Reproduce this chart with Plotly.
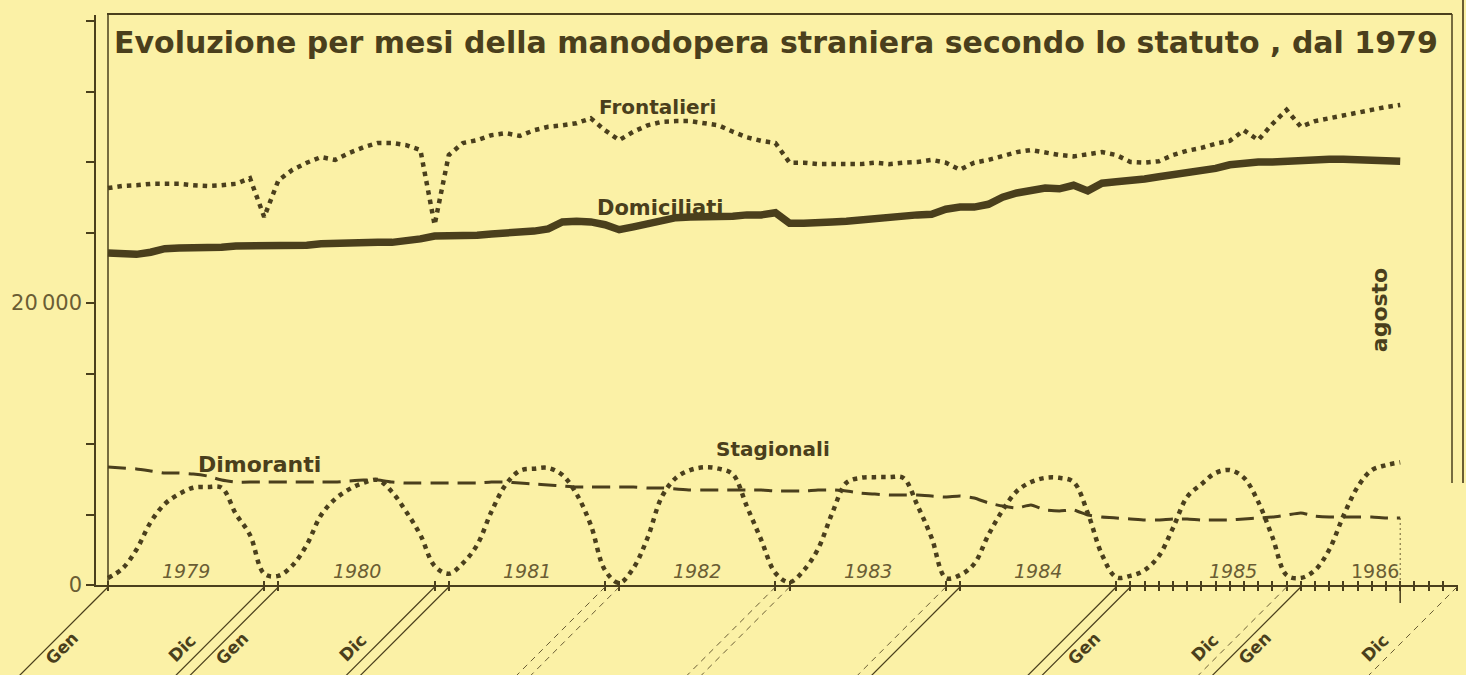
import plotly.graph_objects as go

# ---------------- data (monthly, Gen 1979 .. agosto 1986) ----------------
years = [1979, 1980, 1981, 1982, 1983, 1984, 1985, 1986]
month_names = ["Gen", "Feb", "Mar", "Apr", "Mag", "Giu", "Lug", "Ago", "Set", "Ott", "Nov", "Dic"]

frontalieri = [
    28150, 28300, 28350, 28450, 28450, 28450, 28350, 28300, 28350, 28450, 28850, 26100,  # 1979
    28700, 29450, 29950, 30350, 30150, 30650, 31050, 31350, 31350, 31200, 30850, 25550,  # 1980
    30500, 31350, 31550, 31900, 32050, 31850, 32250, 32500, 32600, 32750, 33100, 32250,  # 1981
    31550, 32150, 32600, 32850, 32900, 32900, 32750, 32600, 32150, 31750, 31500, 31350,  # 1982
    29950, 29950, 29850, 29850, 29800, 29850, 29950, 29850, 29950, 30000, 30150, 29950,  # 1983
    29450, 29950, 30150, 30400, 30700, 30850, 30650, 30500, 30400, 30550, 30700, 30500,  # 1984
    30000, 29950, 30050, 30500, 30800, 31000, 31300, 31500, 32250, 31550, 32700, 33700,  # 1985
    32500, 32900, 33100, 33350, 33550, 33750, 33900, 34050,                              # 1986
]

domiciliati = [
    23550, 23550, 23450, 23600, 23850, 23900, 23900, 23950, 23950, 24050, 24050, 24050,
    24050, 24050, 24100, 24200, 24250, 24250, 24250, 24300, 24300, 24400, 24550, 24750,
    24750, 24750, 24800, 24900, 24950, 25050, 25100, 25250, 25750, 25800, 25750, 25550,
    25200, 25400, 25600, 25900, 26050, 26100, 26100, 26150, 26150, 26250, 26250, 26400,
    25650, 25650, 25650, 25750, 25800, 25900, 26050, 26100, 26150, 26250, 26300, 26650,
    26800, 26800, 27000, 27500, 27800, 27950, 28150, 28100, 28350, 27950, 28500, 28600,
    28650, 28800, 28950, 29100, 29200, 29350, 29550, 29800, 29950, 30000, 30000, 30050,
    30200, 30200, 30200, 30200, 30150, 30150, 30050, 30050,
]

dimoranti = [
    8370, 8300, 8230, 8090, 7940, 7940, 7870, 7730, 7450, 7300, 7300, 7300,
    7300, 7300, 7300, 7300, 7300, 7380, 7450, 7450, 7300, 7230, 7230, 7230,
    7230, 7230, 7230, 7300, 7300, 7230, 7160, 7090, 7020, 6950, 6950, 6950,
    6950, 6950, 6880, 6880, 6810, 6740, 6740, 6740, 6740, 6740, 6740, 6670,
    6670, 6670, 6740, 6740, 6670, 6520, 6450, 6380, 6380, 6380, 6310, 6240,
    6310, 6170, 5820, 5600, 5460, 5670, 5320, 5250, 5320, 4960, 4820, 4750,
    4680, 4610, 4610, 4680, 4680, 4610, 4610, 4610, 4680, 4750, 4820, 4960,
    5110, 4890, 4820, 4820, 4820, 4820, 4750, 4750,
]

stagionali = [
    500, 1150, 2500, 4450, 5750, 6450, 6900, 6950, 6900, 5050, 3550, 800,
    650, 1400, 2850, 4950, 6100, 6800, 7250, 7450, 6600, 5200, 3550, 1350,
    800, 1550, 2850, 5200, 7100, 8100, 8250, 8300, 7800, 6450, 4250, 1050,
    150, 1200, 3350, 6250, 7600, 8150, 8350, 8250, 7850, 5550, 3200, 850,
    200, 1050, 2550, 5100, 7250, 7600, 7650, 7650, 7600, 5650, 3350, 500,
    700, 1500, 3550, 5300, 6650, 7300, 7600, 7600, 7300, 5100, 2150, 550,
    650, 1050, 2050, 4050, 6250, 7150, 7950, 8150, 7600, 5900, 3400, 700,
    500, 1050, 2500, 4900, 6950, 8150, 8500, 8700,
]

y_tick_values = [0, 5000, 10000, 15000, 20000, 25000, 30000, 35000, 40000]
y_tick_text = ["0", "", "", "", "20\u2009000", "", "", "", ""]

months = list(range(len(frontalieri)))          # 0 = Gen 1979
month_labels = [f"{month_names[m % 12]} {years[m // 12]}" for m in months]
last = months[-1]                                # agosto 1986

# ---------------- geometry / style ----------------
W, H = 1466, 675
L, R, T, B = 96, 8, 15, 90
PX0, PXM = 108, 14.2                 # pixel of month 0, pixels per month
plot_w, plot_h = W - L - R, H - T - B
x0 = -(PX0 - L) / PXM
x1 = x0 + plot_w / PXM
PX_PER_UNIT = 282 / 20000
y_top = plot_h / PX_PER_UNIT

BG = "#FBF1A6"
INK = "#4a3f1c"
INK2 = "#6a5d34"
FONT = "DejaVu Sans"


def pxx(m):
    return PX0 + m * PXM


def xp(px):
    return (px - L) / plot_w


def yp(py):
    return (H - B - py) / plot_h


def yval(py):
    return (H - B - py) / PX_PER_UNIT


fig = go.Figure()

fig.add_trace(go.Scatter(
    x=months, y=domiciliati, name="Domiciliati", mode="lines",
    customdata=month_labels, hovertemplate="%{customdata}: %{y}<extra>Domiciliati</extra>",
    line=dict(color=INK, width=7.5)))
fig.add_trace(go.Scatter(
    x=months, y=frontalieri, name="Frontalieri", mode="lines",
    customdata=month_labels, hovertemplate="%{customdata}: %{y}<extra>Frontalieri</extra>",
    line=dict(color=INK, width=4.5, dash="4.5px,5px")))
fig.add_trace(go.Scatter(
    x=months, y=dimoranti, name="Dimoranti", mode="lines",
    customdata=month_labels, hovertemplate="%{customdata}: %{y}<extra>Dimoranti</extra>",
    line=dict(color=INK, width=3, dash="18px,9px", shape="spline", smoothing=0.5)))
fig.add_trace(go.Scatter(
    x=months, y=stagionali, name="Stagionali", mode="lines",
    customdata=month_labels, hovertemplate="%{customdata}: %{y}<extra>Stagionali</extra>",
    line=dict(color=INK, width=4.5, dash="4.5px,5px", shape="spline", smoothing=1.0)))
# empty trace that carries the second (inside-tick) x axis
fig.add_trace(go.Scatter(x=[], y=[], xaxis="x2", yaxis="y", showlegend=False, hoverinfo="skip"))

# x ticks: year boundaries, then every month in 1985-1986
tick_months = []
for k in range(len(years)):
    if years[k] >= 1985:
        tick_months += list(range(12 * k, 12 * k + 12))
    else:
        tick_months += [12 * k, 12 * k + 11]

annotations = []
shapes = []

# title
annotations.append(dict(
    xref="paper", yref="paper", x=xp(112), y=yp(42), xanchor="left", yanchor="middle",
    text="Evoluzione per mesi della manodopera straniera secondo lo statuto , dal 1979",
    showarrow=False, font=dict(family=FONT, size=30, color=INK, weight=700)))

# series labels
for txt, m, py, size in [("Frontalieri", 38.7, 107, 20),
                         ("Domiciliati", 38.9, 208, 21),
                         ("Dimoranti", 10.7, 464, 22),
                         ("Stagionali", 46.8, 449, 20)]:
    annotations.append(dict(
        x=m, y=yval(py), xref="x", yref="y", text=txt, showarrow=False,
        xanchor="center", yanchor="middle",
        font=dict(family=FONT, size=size, color=INK, weight=700)))

# year labels along the axis
year_label_month = [12 * k + 5.5 for k in range(6)] + [79.2, 89.2]
for yr, m in zip(years, year_label_month):
    annotations.append(dict(
        x=m, y=0, xref="x", yref="y", xanchor="center", yanchor="bottom", yshift=1,
        text=str(yr), showarrow=False,
        font=dict(family=FONT, size=19, color=INK2,
                  style="normal" if yr == 1986 else "italic")))

# "agosto"
annotations.append(dict(
    x=last, xref="x", xshift=-21, y=yval(310), yref="y", text="agosto",
    xanchor="center", yanchor="middle",
    textangle=-90, showarrow=False,
    font=dict(family=FONT, size=22, color=INK, weight=700)))

# frame
shapes += [
    dict(type="line", xref="paper", yref="paper", x0=xp(107), x1=xp(1452), y0=yp(14), y1=yp(14),
         line=dict(color=INK, width=2)),
    dict(type="line", xref="paper", yref="paper", x0=xp(108), x1=xp(108), y0=yp(14), y1=yp(590),
         line=dict(color=INK, width=1.5)),
    dict(type="line", xref="paper", yref="paper", x0=xp(1452), x1=xp(1452), y0=yp(14), y1=yp(483),
         line=dict(color=INK, width=1.5)),
    dict(type="line", xref="paper", yref="paper", x0=xp(1463), x1=xp(1463), y0=yp(0), y1=yp(483),
         line=dict(color=INK2, width=2)),
]

# perspective lines below the time axis, with Gen / Dic labels
solid_months = {0, 11, 12, 23, 24, 60, 71, 72, 84}
for k in range(len(years)):
    for m in (12 * k, 12 * k + 11):
        px = pxx(m)
        solid = m in solid_months
        shapes.append(dict(
            type="line", xref="paper", yref="paper",
            x0=xp(px), y0=yp(587), x1=xp(px - 100), y1=yp(687),
            line=dict(color=INK if solid else INK2, width=1.2 if solid else 1,
                      dash="solid" if solid else "6px,5px")))
    if years[k] in (1979, 1980, 1985, 1986):
        annotations.append(dict(
            xref="paper", yref="paper", x=xp(pxx(12 * k) - 46), y=yp(648),
            xanchor="center", yanchor="middle",
            text="Gen", textangle=-45, showarrow=False,
            font=dict(family=FONT, size=17, color=INK, weight=700)))
        annotations.append(dict(
            xref="paper", yref="paper", x=xp(pxx(12 * k + 11) - 82), y=yp(648),
            xanchor="center", yanchor="middle",
            text="Dic", textangle=-45, showarrow=False,
            font=dict(family=FONT, size=17, color=INK, weight=700)))

# agosto marker: thin dotted drop line and long tick below the axis
shapes.append(dict(type="line", xref="x", yref="y", x0=last, x1=last,
                   y0=dimoranti[-1], y1=0, line=dict(color=INK2, width=1, dash="2px,3px")))
shapes.append(dict(type="line", xref="x", yref="paper", x0=last, x1=last,
                   y0=yp(585), y1=yp(603), line=dict(color=INK, width=1.5)))

fig.update_layout(
    width=W, height=H,
    margin=dict(l=L, r=R, t=T, b=B),
    paper_bgcolor=BG, plot_bgcolor=BG,
    showlegend=False,
    font=dict(family=FONT, color=INK),
    xaxis=dict(range=[x0, x1], showgrid=False, zeroline=False, showline=True,
               linecolor=INK, linewidth=1.5, ticks="outside", ticklen=4, tickwidth=1.5,
               tickcolor=INK, tickvals=tick_months, showticklabels=False),
    xaxis2=dict(range=[x0, x1], overlaying="x", anchor="y", side="bottom",
                showgrid=False, zeroline=False, showline=False,
                ticks="inside", ticklen=4, tickwidth=1.5, tickcolor=INK,
                tickvals=tick_months, showticklabels=False),
    yaxis=dict(range=[0, y_top], showgrid=False, zeroline=False, showline=True,
               linecolor=INK, linewidth=1.5, ticks="outside", ticklen=8, tickwidth=1.5,
               tickcolor=INK, tickvals=y_tick_values, ticktext=y_tick_text,
               tickfont=dict(family=FONT, size=21, color=INK2)),
    annotations=annotations,
    shapes=shapes,
)

fig.write_html(
    "out.html",
    config={"displayModeBar": False},
    post_script="document.body.style.margin='0';document.body.style.background='%s';" % BG,
)
